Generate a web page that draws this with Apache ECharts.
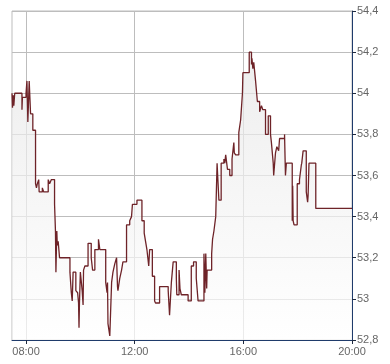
<!DOCTYPE html>
<html>
<head>
<meta charset="utf-8">
<script src="https://cdn.jsdelivr.net/npm/echarts@6/dist/echarts.min.js"></script>
<style>
html,body{margin:0;padding:0;background:#fff;}
#c{width:390px;height:364px;}
</style>
</head>
<body>
<div id="c"></div>
<script>
const times = ["07:29","07:30","07:32","07:33","07:35","07:51","07:52","08:00","08:02","08:04","08:07","08:10","08:15","08:21","08:23","08:25","08:28","08:29","08:36","08:39","08:49","08:52","08:56","09:03","09:05","09:06","09:08","09:09","09:11","09:14","09:37","09:40","09:42","09:44","09:50","09:54","09:56","09:57","09:58","10:00","10:04","10:06","10:07","10:10","10:17","10:24","10:27","10:32","10:40","10:43","10:56","10:59","11:00","11:01","11:05","11:09","11:12","11:16","11:20","11:22","11:23","11:27","11:31","11:34","11:42","11:49","11:53","11:55","12:05","12:16","12:21","12:24","12:27","12:31","12:33","12:39","12:44","12:46","12:55","13:14","13:17","13:21","13:25","13:32","13:33","13:38","13:40","13:43","13:58","14:05","14:10","14:16","14:20","14:33","14:35","14:37","14:39","14:40","14:50","14:52","14:55","14:59","15:02","15:06","15:11","15:17","15:19","15:21","15:25","15:30","15:35","15:39","15:40","15:43","15:50","15:54","15:58","15:59","16:13","16:18","16:19","16:21","16:23","16:27","16:31","16:36","16:40","16:43","16:49","16:55","17:00","17:02","17:06","17:07","17:11","17:14","17:18","17:20","17:31","17:33","17:35","17:48","17:49","17:50","17:52","17:59","18:04","18:08","18:09","18:12","18:19","18:22","18:23","18:25","18:40","20:00"];
const prices = [54.00,53.93,53.99,53.94,54.00,53.92,53.98,54.00,54.06,53.86,54.06,53.90,53.82,53.56,53.54,53.56,53.58,53.52,53.54,53.52,53.58,53.56,53.58,53.46,53.33,53.13,53.33,53.26,53.28,53.20,53.13,53.03,52.99,53.13,53.04,53.03,52.98,52.86,52.98,53.13,53.04,52.97,53.14,53.16,53.27,53.20,53.14,53.24,53.29,53.24,53.08,53.03,53.08,52.88,52.82,53.08,53.13,53.17,53.20,53.06,53.04,53.10,53.14,53.18,53.36,53.38,53.40,53.46,53.48,53.38,53.32,53.28,53.24,53.16,53.24,53.11,52.99,52.98,53.06,53.04,52.92,53.08,53.18,53.10,53.02,53.14,53.05,53.02,52.99,53.16,53.18,53.10,52.99,53.22,53.03,53.22,53.05,53.14,53.22,53.29,53.33,53.40,53.66,53.48,53.66,53.68,53.66,53.70,53.63,53.60,53.68,53.76,53.71,53.70,53.81,53.87,54.00,54.10,54.20,54.14,54.17,54.12,54.15,54.06,53.96,53.91,53.94,53.92,53.80,53.89,53.80,53.76,53.66,53.60,53.71,53.74,53.72,53.78,53.80,53.60,53.66,53.38,53.55,53.38,53.36,53.56,53.58,53.65,53.66,53.72,53.52,53.47,53.50,53.66,53.44,53.44];
const xTickLabels = ["08:00","12:00","16:00","20:00"];
const yTicks = [52.8,53.0,53.2,53.4,53.6,53.8,54.0,54.2,54.4];

function toMin(s){const p=s.split(":");return (+p[0])*60+(+p[1]);}
function fmtMin(m){const h=Math.floor(m/60),mm=Math.round(m%60);return String(h).padStart(2,"0")+":"+String(mm).padStart(2,"0");}
const data = times.map((t,i)=>[toMin(t),prices[i]]);
const xTicks = xTickLabels.map(toMin);

const chart = echarts.init(document.getElementById('c'),null,{renderer:'canvas'});
chart.setOption({
  animation:false,
  backgroundColor:'#ffffff',
  grid:{left:12,top:11,right:38,bottom:24,show:true,borderColor:'#bdbdbd',borderWidth:1,backgroundColor:'transparent'},
  xAxis:{
    type:'value',min:toMin(times[0]),max:toMin(times[times.length-1]),
    axisLine:{show:true,lineStyle:{color:'#1f3b6b',width:1}},
    axisTick:{show:true,length:4,customValues:xTicks,lineStyle:{color:'#1f2a40'}},
    axisLabel:{customValues:xTicks,formatter:v=>fmtMin(v),color:'#666',fontFamily:'Liberation Sans, Arial, sans-serif',fontSize:11,margin:6},
    splitLine:{show:true,lineStyle:{color:'#bdbdbd',width:1}}
  },
  yAxis:{
    type:'value',position:'right',min:yTicks[0],max:yTicks[yTicks.length-1],interval:0.2,
    axisLine:{show:true,lineStyle:{color:'#1f3b6b',width:1}},
    axisTick:{show:true,length:4,lineStyle:{color:'#1f2a40'}},
    axisLabel:{formatter:v=>{let s=(Math.round(v*10)/10).toFixed(1);if(s.endsWith('.0'))s=s.slice(0,-2);return s.replace('.',',');},color:'#666',fontFamily:'Liberation Sans, Arial, sans-serif',fontSize:11,margin:5},
    splitLine:{show:true,lineStyle:{color:'#bdbdbd',width:1}}
  },
  series:[{
    type:'line',step:'end',data:data,showSymbol:false,
    lineStyle:{color:'#6e2328',width:1.3},
    areaStyle:{origin:'start',color:new echarts.graphic.LinearGradient(0,0,0,1,[{offset:0,color:'#e6e6e6'},{offset:1,color:'#ffffff'}])}
  }]
});
</script>
</body>
</html>
